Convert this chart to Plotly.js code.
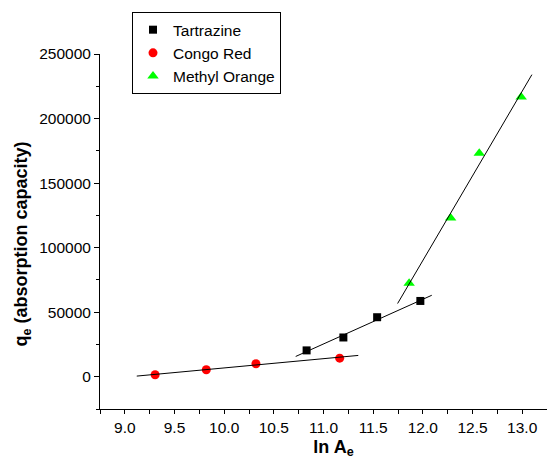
<!DOCTYPE html>
<html>
<head>
<meta charset="utf-8">
<script src="https://cdn.plot.ly/plotly-3.0.1.min.js"></script>
<style>html,body{margin:0;padding:0;background:#fff;}#chart{width:547px;height:463px;}</style>
</head>
<body>
<div id="chart"></div>
<script>
// Data
const tartrazineX = [10.83, 11.20, 11.54, 11.975];
const tartrazineY = [20400, 30400, 46100, 58700];
const congoX = [9.305, 9.82, 10.32, 11.163];
const congoY = [1550, 5400, 10050, 14400];
const methylX = [11.862, 12.28, 12.568, 12.99];
const methylY = [72400, 122900, 173200, 216700];
// fitted line end points
const congoFitX = [9.12, 11.35];
const congoFitY = [500, 16500];
const tartFitX = [10.72, 12.09];
const tartFitY = [15700, 63100];
const methylFitX = [11.746, 13.098];
const methylFitY = [56700, 234000];
const seriesNames = ["Tartrazine", "Congo Red", "Methyl Orange"];

const font = "Liberation Sans, Arial, sans-serif";
const traces = [
  {x: tartrazineX, y: tartrazineY, name: seriesNames[0], mode: "markers", type: "scatter",
   marker: {symbol: "square", size: 8, color: "#000000"}},
  {x: congoX, y: congoY, name: seriesNames[1], mode: "markers", type: "scatter",
   marker: {symbol: "circle", size: 9, color: "#ff0000"}},
  {x: methylX, y: methylY, name: seriesNames[2], mode: "markers", type: "scatter",
   marker: {symbol: "triangle-up", size: 10, color: "#00ff00"}},
  {x: congoFitX, y: congoFitY, mode: "lines", showlegend: false, line: {color: "#000", width: 1}, hoverinfo: "skip"},
  {x: tartFitX, y: tartFitY, mode: "lines", showlegend: false, line: {color: "#000", width: 1}, hoverinfo: "skip"},
  {x: methylFitX, y: methylFitY, mode: "lines", showlegend: false, line: {color: "#000", width: 1}, hoverinfo: "skip"}
];

const layout = {
  width: 547, height: 463,
  margin: {l: 100, r: 0, t: 54, b: 54},
  paper_bgcolor: "#fff", plot_bgcolor: "#fff",
  font: {family: font, size: 15.5, color: "#000"},
  showlegend: true,
  legend: {x: 0.0716, y: 1.118, xanchor: "left", yanchor: "top",
    bordercolor: "#000", borderwidth: 1, bgcolor: "#fff",
    font: {family: font, size: 15.5, color: "#000"}, tracegroupgap: 0},
  xaxis: {
    range: [8.75, 13.25], dtick: 0.5, tick0: 9, tickformat: ".1f",
    showgrid: false, zeroline: false, showline: true, linecolor: "#000", linewidth: 1,
    ticks: "outside", ticklen: 4, tickcolor: "#000",
    minor: {dtick: 0.25, tick0: 8.75, ticks: "outside", ticklen: 4, tickcolor: "#000", showgrid: false},
    title: {text: "<b>&nbsp;&nbsp;&nbsp;&nbsp;ln A<sub>e</sub></b>", font: {family: font, size: 18, color: "#000"}, standoff: 5},
    tickfont: {family: font, size: 15.5, color: "#000"}
  },
  yaxis: {
    range: [-25000, 250000], dtick: 50000, tick0: 0, tickformat: "d",
    showgrid: false, zeroline: false, showline: true, linecolor: "#000", linewidth: 1,
    ticks: "outside", ticklen: 5, tickcolor: "#000",
    minor: {dtick: 25000, tick0: 0, ticks: "outside", ticklen: 3, tickcolor: "#000", showgrid: false},
    title: {text: "<b>q<sub>e</sub> (absorption capacity)&nbsp;&nbsp;&nbsp;&nbsp;&nbsp;</b>", font: {family: font, size: 18, color: "#000"}, standoff: 6},
    tickfont: {family: font, size: 15.5, color: "#000"}
  }
};

Plotly.newPlot("chart", traces, layout, {displayModeBar: false, staticPlot: true});
</script>
</body>
</html>
